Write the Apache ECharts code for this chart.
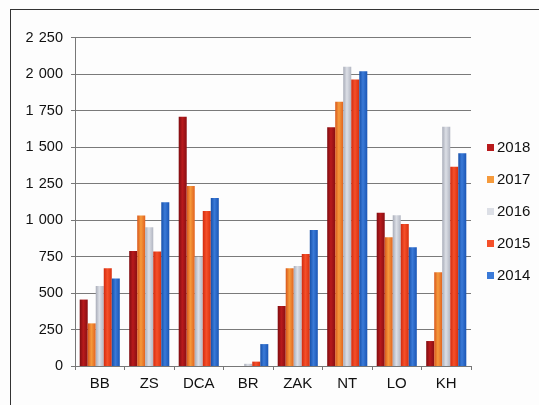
<!DOCTYPE html>
<html>
<head>
<meta charset="utf-8">
<script src="https://cdn.jsdelivr.net/npm/echarts@6/dist/echarts.min.js"></script>
<style>
  html, body { margin: 0; padding: 0; background: #fdfdfd; }
  #frame { position: absolute; left: 10px; top: 9px; width: 529px; height: 396px;
           border-left: 1.5px solid #333; border-top: 1.5px solid #333; }
  #chart { position: absolute; left: 0; top: 0; width: 539px; height: 405px; }
</style>
</head>
<body>
<div id="frame"></div>
<div id="chart"></div>
<script>
// Regions on the x axis
const categories = ['BB', 'ZS', 'DCA', 'BR', 'ZAK', 'NT', 'LO', 'KH'];
// Yearly values per region
const years = ['2018', '2017', '2016', '2015', '2014'];
const v2018 = [455, 788, 1708, 0, 411, 1635, 1050, 171];
const v2017 = [292, 1030, 1233, 0, 669, 1810, 881, 642];
const v2016 = [548, 950, 749, 15, 685, 2050, 1032, 1639];
const v2015 = [669, 785, 1062, 30, 767, 1963, 973, 1365];
const v2014 = [600, 1121, 1150, 150, 932, 2018, 813, 1457];
const yTicks = [0, 250, 500, 750, 1000, 1250, 1500, 1750, 2000, 2250];

const values = [v2018, v2017, v2016, v2015, v2014];
const palette = [
  ['#7e0c10', '#b81a1c', '#8a0e12'],
  ['#d8561a', '#f59a3c', '#e2621e'],
  ['#a8acb8', '#dcdfe6', '#b2b6c2'],
  ['#d22a0e', '#f5502a', '#d8300e'],
  ['#164fa8', '#3a7ad8', '#1a55b4']
];

function grad(c) {
  return new echarts.graphic.LinearGradient(0, 0, 1, 0, [
    { offset: 0, color: c[0] },
    { offset: 0.45, color: c[1] },
    { offset: 1, color: c[2] }
  ]);
}

// thousands grouped with a slightly widened space
function fmt(v) {
  return String(v).replace(/\B(?=(\d{3})+(?!\d))/g, ' \u200A');
}

const font = 'Liberation Sans, Arial';
const chart = echarts.init(document.getElementById('chart'), null, { renderer: 'canvas' });
chart.setOption({
  animation: false,
  backgroundColor: 'transparent',
  grid: { left: 75, right: 68, top: 37.5, bottom: 39, containLabel: false },
  legend: {
    orient: 'vertical',
    left: 482,
    top: 135,
    itemWidth: 7,
    itemHeight: 7,
    itemGap: 17,
    icon: 'rect',
    textStyle: { fontFamily: font, fontSize: 15, color: '#111', padding: [0, 0, 0, -2] },
    data: years.map((y, i) => ({ name: y, itemStyle: { color: palette[i][1] } }))
  },
  xAxis: {
    type: 'category',
    data: categories,
    axisLine: { show: true, lineStyle: { color: '#777', width: 1 } },
    axisTick: { show: true, length: 4, lineStyle: { color: '#777' } },
    axisLabel: { fontFamily: font, fontSize: 15, color: '#111', margin: 10 },
    splitLine: { show: false }
  },
  yAxis: {
    type: 'value',
    min: yTicks[0],
    max: yTicks[yTicks.length - 1],
    interval: 250,
    axisLine: { show: true, lineStyle: { color: '#777', width: 1 } },
    axisTick: { show: true, length: 4, lineStyle: { color: '#777' } },
    axisLabel: {
      fontFamily: font, fontSize: 14.5, color: '#111', margin: 12,
      formatter: v => fmt(v)
    },
    splitLine: { show: true, lineStyle: { color: '#7a7a7a', width: 1.2 } }
  },
  series: values.map((d, i) => ({
    name: years[i],
    type: 'bar',
    data: d,
    barGap: '0%',
    barCategoryGap: '19%',
    itemStyle: { color: grad(palette[i]) }
  }))
});
</script>
</body>
</html>
